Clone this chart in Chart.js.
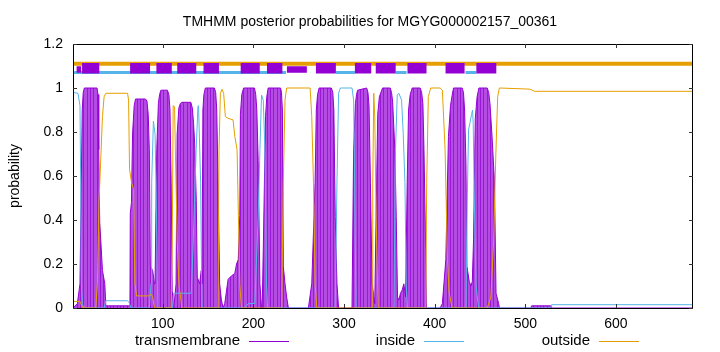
<!DOCTYPE html>
<html>
<head>
<meta charset="utf-8">
<title>TMHMM posterior probabilities</title>
<script src="https://cdn.jsdelivr.net/npm/chart.js@4.4.1/dist/chart.umd.min.js"></script>
<style>
  html, body { margin: 0; padding: 0; background: #fff; }
  #wrap { width: 720px; height: 352px; }
</style>
</head>
<body>
<div id="wrap"><canvas id="tmhmm" width="720" height="352"></canvas></div>
<script>
// posterior probabilities (residue, probability)
const tmRes = [1, 5.8, 8.7, 11.2, 12.3, 13.5, 27.5, 28.6, 29.4, 30.5, 33.5, 36.1, 37.2, 40, 62, 63.8, 64.2, 65.5, 66.7, 68.5,
  70, 81, 82.6, 84, 85.2, 86.3, 88.9, 90.8, 91.5, 93.4, 95.2, 96.5, 98, 105.2, 106.8, 108, 109.3, 110.4, 112.2, 114.7,
  115.9, 117.8, 119.5, 121, 131, 132.6, 134, 135.2, 137, 138.1, 140.7, 142.5, 143.3, 144.3, 145.4, 147, 157, 158.4, 159.6, 161,
  162.8, 164.6, 166.5, 168.4, 172.1, 175.8, 179.5, 181.4, 183.3, 185, 185.7, 187.2, 189.2, 201.2, 202.6, 203.8, 205.3, 207.2, 209, 209.7,
  210.9, 213.4, 214.8, 216.3, 230, 231, 232, 233, 234.9, 236.7, 238.6, 260.7, 264.4, 268.1, 269.4, 270.8, 272.5, 286, 287.6, 288.8,
  290.3, 292.2, 294, 308.8, 310.6, 312.6, 313.8, 315, 325, 326.4, 327.6, 329.1, 331, 333.9, 335.4, 337.2, 339, 342.5, 351, 352.4,
  353.6, 356.1, 357.6, 359, 360.5, 362.3, 364.2, 366, 367.9, 369.7, 371.2, 373, 375.2, 384, 385.6, 387, 388.2, 390.1, 390.8, 406,
  408.5, 412.3, 415.2, 417.5, 419, 420.8, 430.3, 431.8, 433, 434.5, 435.6, 436.3, 438.2, 440, 441.5, 442.9, 444.8, 446.8, 448.8, 458,
  459.6, 461, 463.3, 465.9, 467.7, 470.6, 471.4, 506, 507, 528, 529, 685];
const tmProb = [0, 0.02, 0.11, 0.9, 0.98, 1, 1, 0.97, 0.72, 0.39, 0.17, 0.11, 0.01, 0.01, 0.01, 0.01, 0.43, 0.48, 0.79, 0.92,
  0.95, 0.95, 0.94, 0.88, 0.72, 0.19, 0.17, 0.11, 0.11, 0.72, 0.93, 0.97, 0.99, 0.99, 0.97, 0.9, 0.57, 0.08, 0, 0.11,
  0.79, 0.91, 0.93, 0.935, 0.935, 0.91, 0.84, 0.75, 0.49, 0.14, 0.11, 0.17, 0.11, 0.9, 0.97, 1, 1, 0.98, 0.9, 0.57,
  0.11, 0.04, 0, 0.02, 0.13, 0.146, 0.157, 0.2, 0.22, 0.42, 0.88, 0.97, 1, 1, 0.97, 0.9, 0.67, 0.11, 0, 0,
  0.26, 0.87, 0.96, 1, 1, 0.98, 0.9, 0.19, 0.11, 0.05, 0, 0, 0.11, 0.57, 0.9, 0.97, 1, 1, 0.98, 0.9,
  0.415, 0.11, 0, 0, 0.72, 0.93, 0.97, 0.99, 1, 0.98, 0.92, 0.57, 0.11, 0.02, 0.415, 0.88, 0.96, 1, 1, 0.98,
  0.94, 0.72, 0.415, 0.05, 0.036, 0.067, 0.082, 0.11, 0.05, 0.57, 0.9, 0.97, 1, 1, 0.98, 0.93, 0.72, 0.26, 0, 0,
  0.02, 0.22, 0.78, 0.92, 0.96, 1, 1, 0.98, 0.9, 0.66, 0.19, 0.17, 0.12, 0.1, 0.12, 0.31, 0.86, 0.96, 1, 1,
  0.98, 0.93, 0.78, 0.58, 0.067, 0.02, 0, 0, 0.01, 0.01, 0, 0];

const inRes = [1, 6.5, 8.7, 9.5, 10.2, 11.3, 13, 35.3, 37.2, 61.2, 63, 65, 85.2, 87.1, 87.8, 89.7, 91.5, 92.6, 94.5, 111,
  112, 131.4, 133.3, 136.9, 138.8, 139.5, 141.8, 143.2, 190.5, 194.2, 201.6, 205.3, 207.2, 209, 210.9, 212.7, 214.5, 215.7, 290.3, 292.2,
  294, 295.9, 308.8, 310.6, 311.7, 313.2, 355, 356.8, 358.7, 360.5, 363.5, 365.3, 367.2, 368.6, 370.1, 434.5, 436, 437.4, 438.9, 440.7,
  441.8, 442.5, 443.7, 445.6, 448.5, 528, 529, 685];
const inProb = [0.98, 0.976, 0.92, 0.57, 0.11, 0.02, 0, 0, 0.033, 0.033, 0.024, 0, 0, 0.11, 0.57, 0.85, 0.79, 0.57, 0, 0,
  0.067, 0.067, 0.26, 0.72, 0.915, 0.92, 0.57, 0, 0, 0.02, 0.02, 0.415, 0.72, 0.968, 0.945, 0.72, 0.11, 0, 0, 0.57,
  0.976, 1, 1, 0.945, 0.57, 0, 0, 0.72, 0.968, 0.976, 0.945, 0.794, 0.57, 0.11, 0, 0, 0.5, 0.81, 0.84, 0.88,
  0.9, 0.84, 0.5, 0.1, 0, 0, 0.015, 0.015];

const outRes = [1, 8.7, 9.5, 12, 26.1, 27.9, 29.8, 33.5, 35.3, 37.2, 61.2, 62.3, 63.4, 65.6, 67.8, 69.3, 71.2, 85.2, 87.1, 88.9,
  90.8, 109.2, 110.5, 111.5, 113, 114.5, 116, 118, 120, 121, 161, 162.1, 163.6, 165.4, 167.2, 169.1, 172.1, 177.6, 179.5, 182,
  185, 186.8, 231.2, 233, 234.9, 236.7, 262.6, 264.4, 266.3, 268.1, 270, 331, 331.7, 332.8, 333.9, 335.4, 337.6, 390.1, 391.2, 393,
  395.6, 406, 408.5, 411.5, 414.1, 415.9, 419.3, 458, 462, 465, 467.5, 469.5, 471.4, 504.7, 510.2, 685];
const outProb = [0.03, 0.03, 0.02, 0, 0, 0.11, 0.49, 0.87, 0.96, 0.976, 0.976, 0.945, 0.63, 0.57, 0.54, 0.11, 0.055, 0.055, 0.064, 0.052,
  0, 0, 0.3, 0.92, 0.915, 0.6, 0.3, 0.1, 0.04, 0, 0, 0.72, 0.976, 0.994, 0.976, 0.87, 0.862, 0.855, 0.78, 0.72,
  0.11, 0, 0, 0.567, 0.945, 1, 1, 0.87, 0.567, 0.11, 0, 0, 0.567, 0.976, 0.87, 0.415, 0, 0, 0.567, 0.961,
  1, 1, 0.99, 0.72, 0.22, 0.07, 0, 0, 0.05, 0.3, 0.7, 0.96, 1, 0.995, 0.985, 0.985];

// predicted topology strip at the top
const tmBoxStart = [11, 64, 93, 116, 145, 186, 215, 269, 312, 335, 370, 412, 446];
const tmBoxEnd   = [30, 86, 110, 137, 162, 207, 232, 291, 330, 357, 391, 433, 468];
const lowBoxStart = [5, 237];
const lowBoxEnd   = [10, 259];
const inSegStart = [1, 291, 357, 434];
const inSegEnd   = [236, 312, 369, 446];
const outSegStart = [1];
const outSegEnd   = [685];

const xTicks = [100, 200, 300, 400, 500, 600];
const yTicks = [0, 0.2, 0.4, 0.6, 0.8, 1, 1.2];

const seqLen = 685;
const chartTitle = 'TMHMM posterior probabilities for MGYG000002157_00361';
const FONT = "'Liberation Sans', Arial, sans-serif";

function pts(xs, ys) {
  return xs.map((x, i) => ({ x: x, y: ys[i] }));
}
// segments at a fixed height, broken with nulls
function segs(starts, ends, level) {
  const out = [];
  starts.forEach((s, i) => {
    out.push({ x: s, y: level }, { x: ends[i], y: level }, { x: ends[i], y: null });
  });
  return out;
}

const purple = '#9400d3', sky = '#56b4e9', orange = '#e69f00';

// impulse look: light violet with darker vertical streaks
function impulseFill() {
  const c = document.createElement('canvas');
  c.width = 10; c.height = 4;
  const g = c.getContext('2d');
  g.fillStyle = '#b44ce4';
  g.fillRect(0, 0, 10, 4);
  g.fillStyle = '#9c18d8';
  g.fillRect(0, 0, 1, 4);
  g.fillRect(3, 0, 1, 4);
  g.fillRect(7, 0, 1, 4);
  return g.createPattern(c, 'repeat');
}

// frame with inward ticks, title and legend, gnuplot style
const framePlugin = {
  id: 'frame',
  afterDraw(chart) {
    const { ctx, chartArea: a, scales } = chart;
    ctx.save();
    ctx.strokeStyle = '#000';
    ctx.lineWidth = 1;
    ctx.strokeRect(Math.round(a.left) + 0.5, Math.round(a.top) + 0.5,
      Math.round(a.right - a.left) - 1, Math.round(a.bottom - a.top));
    ctx.beginPath();
    const tl = 4;
    yTicks.forEach(v => {
      const y = Math.round(scales.y.getPixelForValue(v)) + 0.5;
      ctx.moveTo(a.left, y); ctx.lineTo(a.left + tl, y);
      ctx.moveTo(a.right, y); ctx.lineTo(a.right - tl, y);
    });
    xTicks.forEach(v => {
      const x = Math.round(scales.x.getPixelForValue(v)) + 0.5;
      ctx.moveTo(x, a.bottom); ctx.lineTo(x, a.bottom - tl);
      ctx.moveTo(x, a.top); ctx.lineTo(x, a.top + tl);
    });
    ctx.strokeStyle = '#333';
    ctx.stroke();

    ctx.fillStyle = '#000';
    ctx.textBaseline = 'middle';
    ctx.font = '14px ' + FONT;
    ctx.textAlign = 'center';
    ctx.fillText(chartTitle, 370, 22);

    // legend: text then a line sample
    const items = chart.data.datasets.filter(d => d.label);
    const lineX = [249, 424, 599];
    const ly = 341;
    ctx.font = '15px ' + FONT;
    ctx.textAlign = 'right';
    items.forEach((d, i) => {
      ctx.fillStyle = '#000';
      ctx.fillText(d.label, lineX[i] - 9, ly);
      ctx.beginPath();
      ctx.strokeStyle = d.borderColor;
      ctx.lineWidth = 1;
      ctx.moveTo(lineX[i], ly + 0.5);
      ctx.lineTo(lineX[i] + 40, ly + 0.5);
      ctx.stroke();
    });
    ctx.restore();
  }
};

new Chart(document.getElementById('tmhmm'), {
  type: 'line',
  data: {
    datasets: [
      {
        label: 'transmembrane',
        data: pts(tmRes, tmProb),
        borderColor: purple,
        backgroundColor: impulseFill(),
        borderWidth: 1,
        fill: 'origin',
        order: 10
      },
      {
        label: 'inside',
        data: pts(inRes, inProb),
        borderColor: sky,
        borderWidth: 1,
        fill: false,
        order: 8
      },
      {
        label: 'outside',
        data: pts(outRes, outProb),
        borderColor: orange,
        borderWidth: 1,
        fill: false,
        order: 7
      },
      {
        data: segs(outSegStart, outSegEnd, 1.11),
        borderColor: orange,
        borderWidth: 4,
        order: 4
      },
      {
        data: segs(inSegStart, inSegEnd, 1.07),
        borderColor: sky,
        borderWidth: 3,
        order: 3
      },
      {
        data: segs(lowBoxStart, lowBoxEnd, 1.084),
        borderColor: purple,
        borderWidth: 6.5,
        order: 2
      },
      {
        data: segs(tmBoxStart, tmBoxEnd, 1.09),
        borderColor: purple,
        borderWidth: 10.5,
        order: 1
      }
    ]
  },
  options: {
    responsive: false,
    animation: false,
    devicePixelRatio: 1,
    layout: { padding: { left: 0, right: 27, top: 44, bottom: 0 } },
    elements: {
      point: { radius: 0, hoverRadius: 0 },
      line: { tension: 0, borderCapStyle: 'butt', borderJoinStyle: 'miter' }
    },
    spanGaps: false,
    plugins: {
      legend: { display: false },
      tooltip: { enabled: false },
      title: { display: false }
    },
    scales: {
      x: {
        type: 'linear',
        min: 1,
        max: seqLen,
        grid: { display: false, drawTicks: false },
        border: { display: false },
        afterBuildTicks: s => { s.ticks = xTicks.map(v => ({ value: v })); },
        afterFit: s => { s.height = 44; },
        ticks: {
          color: '#000',
          padding: 8,
          maxRotation: 0,
          autoSkip: false,
          font: { family: FONT, size: 14 }
        }
      },
      y: {
        type: 'linear',
        min: 0,
        max: 1.2,
        grid: { display: false, drawTicks: false },
        border: { display: false },
        afterBuildTicks: s => { s.ticks = yTicks.map(v => ({ value: v })); },
        afterFit: s => { s.width = 73; },
        ticks: {
          color: '#000',
          padding: 10,
          font: { family: FONT, size: 14 },
          callback: v => String(v)
        },
        title: {
          display: true,
          text: 'probability',
          color: '#000',
          font: { family: FONT, size: 14 },
          padding: { top: 7, bottom: 0 }
        }
      }
    }
  },
  plugins: [framePlugin]
});
</script>
</body>
</html>
